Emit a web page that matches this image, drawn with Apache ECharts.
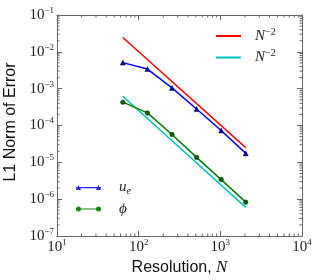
<!DOCTYPE html>
<html><head><meta charset="utf-8">
<script src="https://cdn.jsdelivr.net/npm/echarts@6/dist/echarts.min.js"></script>
<style>html,body{margin:0;padding:0;background:#fff}#c{width:320px;height:280px}</style>
</head><body><div id="c"></div>
<script>
// ---- data ----
const resolutionN = [64, 128, 256, 512, 1024, 2048];
const errUe  = [5.1e-3, 3.4e-3, 1.05e-3, 2.8e-4, 7.3e-5, 1.75e-5];
const errPhi = [4.3e-4, 2.2e-4, 5.7e-5, 1.36e-5, 3.4e-6, 8.3e-7];
const refN = [64, 2048];
const refRed  = [2.44e-2, 2.5e-5];
const refCyan = [6.2e-4, 6.0e-7];
const xRange = [10, 10000];
const yRange = [1e-7, 1e-1];

// ---- helpers ----
const serif = 'Liberation Serif';
const sans = 'Liberation Sans';
const axisCol = '#666';
const txtCol = '#222';
const zip = (a, b) => a.map((v, i) => [v, b[i]]);
function minorTicks(lo, hi) {
  const out = [];
  for (let d = lo; d < hi; d *= 10) for (let k = 2; k <= 9; k++) out.push(d * k);
  return out;
}
const xMinor = minorTicks(xRange[0], xRange[1]);
const yMinor = minorTicks(yRange[0], yRange[1]);

const tickRich = {
  b: { fontFamily: serif, fontSize: 15, color: txtCol, lineHeight: 18 },
  s: { fontFamily: serif, fontSize: 9, color: txtCol, lineHeight: 10, verticalAlign: 'top' }
};
function powLabel(v) {
  const e = Math.round(Math.log10(v));
  return '{b|10}{s|' + (e < 0 ? '\u2212' + (-e) : e) + '}';
}
const baseAxis = {
  type: 'log', logBase: 10,
  axisLine: { show: true, lineStyle: { color: axisCol, width: 1 } },
  axisTick: { show: true, inside: true, length: 5, lineStyle: { color: axisCol } },
  splitLine: { show: false },
  minorTick: { show: false },
};

const legendRich = {
  sp: { width: 9 },
  sp2: { width: 13 },
  i: { fontFamily: serif, fontStyle: 'italic', fontSize: 15, color: txtCol, lineHeight: 18 },
  sup: { fontFamily: serif, fontSize: 10, color: txtCol, lineHeight: 10, verticalAlign: 'top' },
  sub: { fontFamily: serif, fontStyle: 'italic', fontSize: 10, color: txtCol, lineHeight: 10, verticalAlign: 'bottom' }
};
const legendText = {
  'ref red': '{sp| }{i|N}{sup|\u22122}',
  'ref cyan': '{sp| }{i|N}{sup|\u22122}',
  'u_e': '{sp2| }{i|u}{sub|e}',
  'phi': '{sp2| }{i|\u03d5}'
};

const tickStyle = { stroke: axisCol, lineWidth: 1 };

const option = {
  animation: false,
  backgroundColor: '#fff',
  grid: { left: 57, top: 15, right: 18, bottom: 44, containLabel: false, outerBoundsMode: 'none' },
  xAxis: [
    Object.assign({}, baseAxis, {
      min: xRange[0], max: xRange[1], splitNumber: 3, position: 'bottom',
      axisLabel: { margin: 2, formatter: powLabel, rich: tickRich },
      name: '{a|Resolution, }{n|N}', nameLocation: 'middle', nameGap: 21,
      nameTextStyle: { rich: {
        a: { fontFamily: sans, fontSize: 16, color: '#111' },
        n: { fontFamily: serif, fontStyle: 'italic', fontSize: 17, color: '#111' } } }
    }),
    Object.assign({}, baseAxis, {
      min: xRange[0], max: xRange[1], splitNumber: 3, position: 'top',
      axisLabel: { show: false }
    })
  ],
  yAxis: [
    Object.assign({}, baseAxis, {
      min: yRange[0], max: yRange[1], splitNumber: 6, position: 'left',
      axisLabel: { margin: 3, formatter: powLabel, rich: tickRich },
      name: 'L1 Norm of Error', nameLocation: 'middle', nameGap: 30,
      nameTextStyle: { fontFamily: sans, fontSize: 16, color: '#111', padding: [0, 0, 0, 7] }
    }),
    Object.assign({}, baseAxis, {
      min: yRange[0], max: yRange[1], splitNumber: 6, position: 'right',
      axisLabel: { show: false }
    })
  ],
  legend: [
    {
      data: ['ref red', 'ref cyan'], orient: 'vertical', left: 216, top: 27,
      padding: 0, itemGap: 5, itemWidth: 25, itemHeight: 2, selectedMode: false,
      icon: 'path://M0,0 L25,0 L25,2 L0,2 Z',
      formatter: n => legendText[n], textStyle: { rich: legendRich }
    },
    {
      data: [
        { name: 'u_e', icon: 'path://M0,5 L2.5,0 L5,5 Z M0,2 L25,2 L25,3.2 L0,3.2 Z M20,5 L22.5,0 L25,5 Z',
          itemStyle: { color: '#2222ee', borderWidth: 0 } },
        { name: 'phi', icon: 'path://M0,2.5 A2.5,2.5 0 1 1 5,2.5 A2.5,2.5 0 1 1 0,2.5 Z M0,1.9 L25,1.9 L25,3.1 L0,3.1 Z M20,2.5 A2.5,2.5 0 1 1 25,2.5 A2.5,2.5 0 1 1 20,2.5 Z',
          itemStyle: { color: '#108a10', borderWidth: 0 } }
      ],
      orient: 'vertical', left: 76, top: 180,
      padding: 0, itemGap: 5, itemWidth: 25, itemHeight: 5, selectedMode: false,
      formatter: n => legendText[n], textStyle: { rich: legendRich }
    }
  ],
  series: [
    {
      name: 'ref red', type: 'line', data: zip(refN, refRed), symbol: 'none',
      color: '#ff0000', lineStyle: { color: '#ff0000', width: 1.5 }, z: 2
    },
    {
      name: 'ref cyan', type: 'line', data: zip(refN, refCyan), symbol: 'none',
      color: '#00bfbf', lineStyle: { color: '#00bfbf', width: 1.5 }, z: 2
    },
    {
      name: 'u_e', type: 'line', data: zip(resolutionN, errUe),
      symbol: 'triangle', symbolSize: 5, color: '#0000ff',
      lineStyle: { color: '#0000ff', width: 1.5 },
      itemStyle: { color: '#0000bb', borderColor: '#000033', borderWidth: 0.5 }, z: 3
    },
    {
      name: 'phi', type: 'line', data: zip(resolutionN, errPhi),
      symbol: 'circle', symbolSize: 4.5, color: '#008000',
      lineStyle: { color: '#008000', width: 1.5 },
      itemStyle: { color: '#006400', borderColor: '#002000', borderWidth: 0.5 }, z: 3
    },
    {
      type: 'custom', silent: true, z: 5, clip: false,
      data: xMinor.map(v => [v, yRange[0]]),
      renderItem: (params, api) => {
        const v = api.value(0);
        const b = api.coord([v, yRange[0]]);
        const t = api.coord([v, yRange[1]]);
        return { type: 'group', children: [
          { type: 'line', shape: { x1: b[0], y1: b[1], x2: b[0], y2: b[1] - 2.5 }, style: tickStyle },
          { type: 'line', shape: { x1: t[0], y1: t[1], x2: t[0], y2: t[1] + 2.5 }, style: tickStyle }
        ] };
      }
    },
    {
      type: 'custom', silent: true, z: 5, clip: false,
      data: yMinor.map(v => [xRange[0], v]),
      renderItem: (params, api) => {
        const v = api.value(1);
        const l = api.coord([xRange[0], v]);
        const r = api.coord([xRange[1], v]);
        return { type: 'group', children: [
          { type: 'line', shape: { x1: l[0], y1: l[1], x2: l[0] + 2.5, y2: l[1] }, style: tickStyle },
          { type: 'line', shape: { x1: r[0], y1: r[1], x2: r[0] - 2.5, y2: r[1] }, style: tickStyle }
        ] };
      }
    }
  ]
};
const chart = echarts.init(document.getElementById('c'), null, { renderer: 'canvas' });
chart.setOption(option);
</script>
</body></html>
